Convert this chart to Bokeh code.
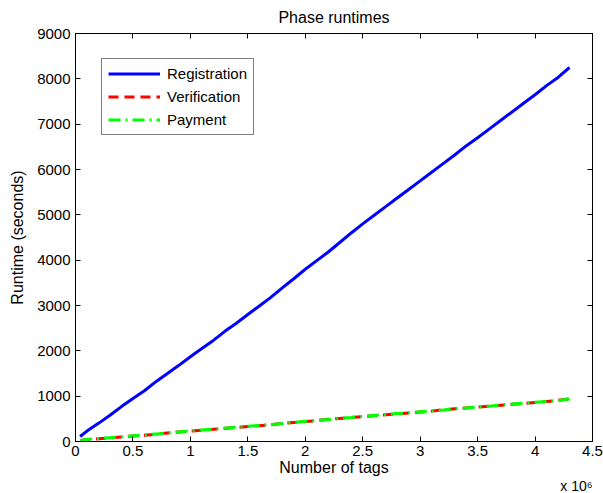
from bokeh.plotting import figure
from bokeh.models import LinearAxis, FixedTicker, CustomJSTickFormatter, Range1d, Title
from bokeh.embed import file_html
from bokeh.resources import INLINE

# Number of tags (in millions)
tags = [0.04, 0.1, 0.2, 0.3, 0.4, 0.5, 0.6, 0.7, 0.8, 0.9, 1.0, 1.1, 1.2, 1.3, 1.4,
        1.5, 1.6, 1.7, 1.8, 1.9, 2.0, 2.1, 2.2, 2.3, 2.4, 2.5, 2.6, 2.7, 2.8, 2.9,
        3.0, 3.1, 3.2, 3.3, 3.4, 3.5, 3.6, 3.7, 3.8, 3.9, 4.0, 4.1, 4.2, 4.3]

registration = [110, 230, 400, 580, 770, 950, 1120, 1320, 1500, 1680, 1870, 2050, 2230, 2430, 2610,
                2800, 2990, 3180, 3390, 3590, 3800, 3990, 4180, 4390, 4600, 4800, 4990, 5180, 5370, 5560,
                5750, 5940, 6130, 6320, 6520, 6700, 6890, 7080, 7270, 7460, 7650, 7850, 8030, 8250]

verification = [20, 40, 60, 80, 100, 120, 140, 160, 190, 210, 230, 250, 270, 290, 310,
                330, 350, 370, 400, 420, 440, 460, 490, 510, 530, 550, 570, 590, 610, 630,
                650, 670, 700, 720, 740, 760, 780, 800, 820, 840, 860, 880, 910, 940]

payment = [25, 45, 65, 85, 105, 125, 145, 165, 185, 210, 235, 255, 275, 295, 315,
           335, 355, 375, 395, 420, 445, 465, 485, 510, 530, 555, 575, 595, 615, 635,
           655, 675, 695, 720, 740, 760, 780, 805, 825, 845, 865, 885, 905, 935]

x_ticks = [0, 0.5, 1, 1.5, 2, 2.5, 3, 3.5, 4, 4.5]
y_ticks = [0, 1000, 2000, 3000, 4000, 5000, 6000, 7000, 8000, 9000]

FONT = "Liberation Sans"

p = figure(frame_width=517, frame_height=408,
           min_border_left=75, min_border_right=11, min_border_top=33, min_border_bottom=52,
           x_range=Range1d(0, 4.5), y_range=Range1d(0, 9000),
           output_backend="svg", toolbar_location=None,
           background_fill_color="white", border_fill_color="white")

p.title.text = "Phase runtimes"
p.title.text_font = FONT
p.title.text_font_size = "16px"
p.title.text_font_style = "normal"
p.title.align = "center"
p.title.vertical_align = "top"
p.title.text_line_height = 0.4
p.title.text_color = "black"
p.title.standoff = 12

p.grid.visible = False
p.outline_line_color = "black"
p.outline_line_width = 1

fmt = CustomJSTickFormatter(code="return tick.toString();")
blank = CustomJSTickFormatter(code="return '';")

def style_axis(ax, ticks, show_labels):
    ax.ticker = FixedTicker(ticks=ticks)
    ax.major_tick_in = 5
    ax.major_tick_out = 0
    ax.minor_tick_line_color = None
    ax.axis_line_color = "black"
    ax.axis_line_width = 1
    ax.major_tick_line_color = "black"
    ax.major_label_text_font = FONT
    ax.major_label_text_color = "black"
    ax.axis_label_text_font = FONT
    ax.axis_label_text_font_style = "normal"
    ax.axis_label_text_color = "black"
    ax.axis_label_text_font_size = "16px"
    if show_labels:
        ax.major_label_text_font_size = "15px"
        ax.formatter = fmt
    else:
        ax.formatter = blank
        ax.major_label_text_font_size = "1px"
        ax.major_label_standoff = 0

style_axis(p.xaxis[0], x_ticks, True)
p.xaxis[0].axis_label = "Number of tags"
p.xaxis[0].major_label_standoff = 4
p.xaxis[0].axis_label_standoff = 0

style_axis(p.yaxis[0], y_ticks, True)
p.yaxis[0].axis_label = "Runtime (seconds)"
p.yaxis[0].major_label_standoff = 5
p.yaxis[0].axis_label_standoff = 8

top = LinearAxis()
style_axis(top, x_ticks, False)
p.add_layout(top, "above")
right = LinearAxis()
style_axis(right, y_ticks, False)
p.add_layout(right, "right")

p.line(tags, registration, line_color="#0000ff", line_width=3, legend_label="Registration")
p.line(tags, verification, line_color="#ff0000", line_width=3, line_dash="10 6",
       legend_label="Verification")
p.line(tags, payment, line_color="#00ff00", line_width=3, line_dash="12 5 2 5",
       legend_label="Payment")

lg = p.legend[0]
lg.location = (26, 306)
lg.label_text_font = FONT
lg.label_text_font_size = "15px"
lg.label_text_color = "black"
lg.glyph_width = 52
lg.glyph_height = 17
lg.label_height = 17
lg.label_standoff = 7
lg.padding = 6
lg.spacing = 6
lg.margin = 0
lg.border_line_color = "black"
lg.border_line_width = 1
lg.background_fill_color = "white"
lg.background_fill_alpha = 1

p.add_layout(Title(text="x 10\u2076", align="right", text_font=FONT, text_font_size="14px",
                   text_font_style="normal", text_color="black", standoff=-6), "below")

open("out.html", "w").write(file_html(p, INLINE))
